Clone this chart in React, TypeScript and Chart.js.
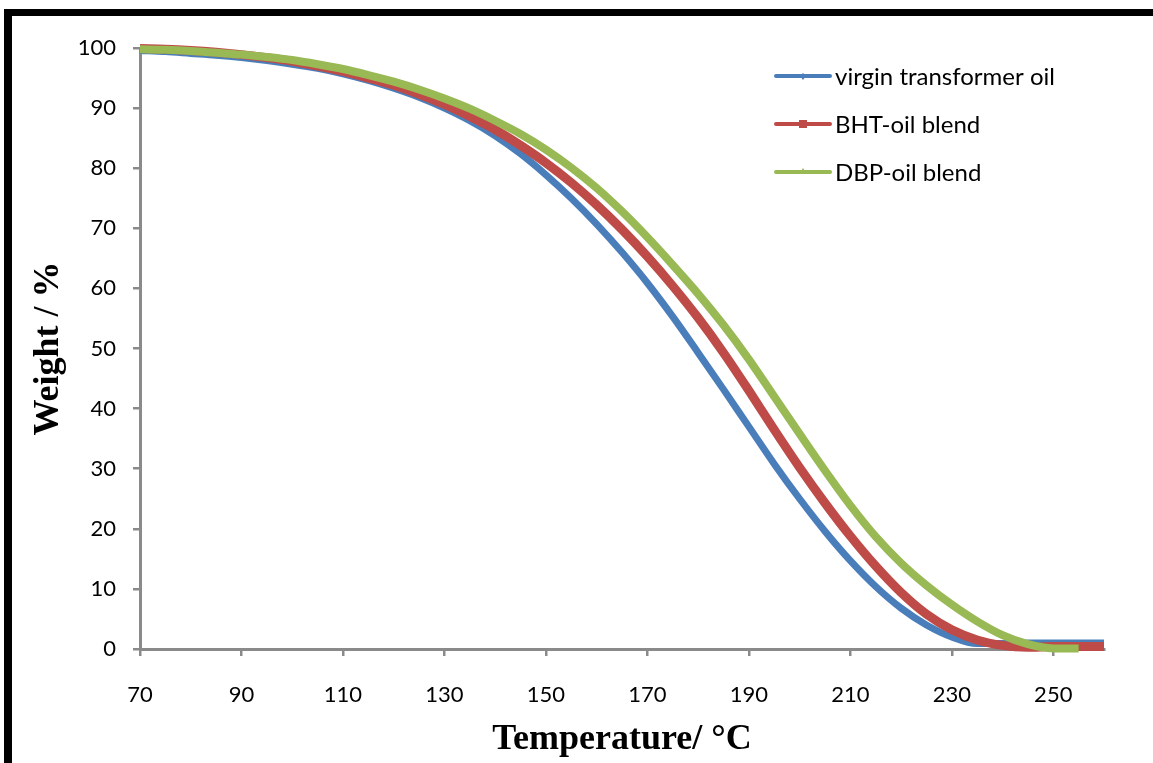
import React, { useEffect, useRef } from "react";
import { Chart, registerables } from "chart.js";

Chart.register(...registerables);

// Temperature (°C)
const temperatures = [
  70, 75, 80, 85, 90, 95, 100, 105, 110, 115, 120, 125, 130, 135, 140, 145, 150, 155, 160, 165,
  170, 175, 180, 185, 190, 195, 200, 205, 210, 215, 220, 225, 230, 235, 240, 245, 250, 255, 260,
];

// Weight (%)
const virginOil = [
  99.6, 99.4, 99.1, 98.8, 98.4, 97.9, 97.3, 96.6, 95.7, 94.6, 93.3, 91.8, 90.0, 87.9, 85.4, 82.4, 78.9, 75.0, 70.7, 66.0,
  60.9, 55.3, 49.3, 43.2, 37.0, 30.8, 25.0, 19.6, 14.7, 10.4, 6.8, 4.0, 2.0, 0.9, 0.9, 1.0, 1.0, 1.0, 1.0,
];
const bhtBlend = [
  99.9, 99.8, 99.6, 99.3, 98.9, 98.4, 97.8, 97.0, 96.1, 95.0, 93.8, 92.3, 90.6, 88.6, 86.4, 83.8, 80.9, 77.6, 73.9, 69.8,
  65.3, 60.4, 55.1, 49.3, 43.0, 36.5, 30.2, 24.3, 18.8, 13.8, 9.4, 5.8, 3.2, 1.5, 0.6, 0.3, 0.4, 0.4, 0.4,
];
const dbpBlend = [
  99.8, 99.7, 99.5, 99.2, 98.9, 98.5, 98.0, 97.3, 96.5, 95.5, 94.4, 93.1, 91.6, 89.9, 87.9, 85.7, 83.1, 80.1, 76.7, 72.8,
  68.5, 63.9, 59.1, 53.9, 48.2, 42.0, 35.8, 29.7, 23.9, 18.7, 14.3, 10.6, 7.4, 4.6, 2.3, 0.8, 0.1, 0.1, null,
];

const seriesLabels = ["virgin transformer oil", "BHT-oil blend", "DBP-oil blend"];
const seriesColors = ["#4A7EBB", "#BE4B48", "#98B954"];
const seriesMarkers = ["rectRot", "rect", "triangle"];

const xTicks = [70, 90, 110, 130, 150, 170, 190, 210, 230, 250];
const yMin = 0;
const yMax = 100;
const yStep = 10;
const xMin = 70;
const xMax = 260;

const toPoints = (values: (number | null)[]) =>
  temperatures
    .map((t, i) => ({ x: t, y: values[i] }))
    .filter((p) => p.y !== null && p.y !== undefined);

const insetLegend = {
  id: "insetLegend",
  afterDatasetsDraw(chart: any) {
    const { ctx } = chart;
    const ds = chart.data.datasets;
    ctx.save();
    ds.forEach((d: any, i: number) => {
      const y = 76 + i * 48;
      const x0 = 776;
      const x1 = 830;
      ctx.strokeStyle = d.borderColor;
      ctx.lineWidth = 4;
      ctx.lineCap = "round";
      ctx.beginPath();
      ctx.moveTo(x0, y);
      ctx.lineTo(x1, y);
      ctx.stroke();
      const cx = (x0 + x1) / 2;
      ctx.fillStyle = d.borderColor;
      ctx.beginPath();
      if (d.legendMarker === "rect") {
        ctx.rect(cx - 4, y - 4, 8, 8);
      } else if (d.legendMarker === "rectRot") {
        ctx.moveTo(cx, y - 3);
        ctx.lineTo(cx + 3, y);
        ctx.lineTo(cx, y + 4);
        ctx.lineTo(cx - 3, y);
        ctx.closePath();
      } else {
        ctx.moveTo(cx, y - 4);
        ctx.lineTo(cx + 3, y + 1);
        ctx.lineTo(cx - 3, y + 1);
        ctx.closePath();
      }
      ctx.fill();
      ctx.fillStyle = "#000";
      ctx.font = "24px Lato";
      ctx.textAlign = "left";
      ctx.textBaseline = "middle";
      ctx.fillText(d.label, 835, y + 1);
    });
    ctx.restore();
  },
};

export default function App() {
  const canvasRef = useRef<HTMLCanvasElement | null>(null);

  useEffect(() => {
    if (!canvasRef.current) return;
    const widths = [7, 9, 8];
    const orders = [3, 2, 1];
    const datasets = [virginOil, bhtBlend, dbpBlend].map((vals, i) => ({
      label: seriesLabels[i],
      data: toPoints(vals),
      borderColor: seriesColors[i],
      backgroundColor: seriesColors[i],
      borderWidth: widths[i],
      pointRadius: 0,
      pointHoverRadius: 0,
      cubicInterpolationMode: "monotone" as const,
      fill: false,
      order: orders[i],
      clip: false as any,
      legendMarker: seriesMarkers[i],
    }));

    const chart = new Chart(canvasRef.current, {
      type: "line",
      data: { datasets: datasets as any },
      plugins: [insetLegend],
      options: {
        animation: false,
        responsive: false,
        maintainAspectRatio: false,
        layout: { padding: { top: 48, right: 49, left: 0, bottom: 0 } },
        plugins: {
          legend: { display: false },
          tooltip: { enabled: false },
        },
        scales: {
          x: {
            type: "linear",
            min: xMin,
            max: xMax,
            afterBuildTicks: (scale: any) => {
              scale.ticks = xTicks.map((v) => ({ value: v }));
            },
            afterFit: (scale: any) => {
              scale.height = 114;
            },
            grid: {
              display: true,
              drawOnChartArea: false,
              drawTicks: true,
              tickLength: 7,
              color: "#8a8a8a",
              lineWidth: 2.5,
            },
            border: { display: true, color: "#8a8a8a", width: 3 },
            ticks: {
              color: "#000",
              font: { family: "Lato", size: 22 },
              padding: 26,
              maxRotation: 0,
              autoSkip: false,
            },
            title: {
              display: true,
              text: "Temperature/ °C",
              color: "#000",
              font: { family: "Liberation Serif", size: 36, weight: "bold", lineHeight: 1.2 },
              padding: { top: 0, bottom: 2 },
            },
          },
          y: {
            type: "linear",
            min: yMin,
            max: yMax,
            ticks: {
              stepSize: yStep,
              color: "#000",
              font: { family: "Lato", size: 22 },
              padding: 17,
            },
            afterFit: (scale: any) => {
              scale.width = 140;
            },
            grid: {
              display: true,
              drawOnChartArea: false,
              drawTicks: true,
              tickLength: 7,
              color: "#8a8a8a",
              lineWidth: 2.5,
            },
            border: { display: true, color: "#8a8a8a", width: 3 },
            title: {
              display: true,
              text: "Weight / %",
              color: "#000",
              font: { family: "Liberation Serif", size: 36, weight: "bold", lineHeight: 1.2 },
              padding: { top: 27, bottom: 0 },
            },
          },
        },
      },
    });
    return () => chart.destroy();
  }, []);

  return (
    <div
      style={{
        position: "fixed",
        left: 0,
        top: 0,
        width: 1153,
        height: 763,
        background: "#fff",
        overflow: "hidden",
      }}
    >
      <canvas ref={canvasRef} width={1153} height={763} style={{ display: "block" }} />
      <div
        style={{
          position: "absolute",
          left: 4,
          top: 9,
          width: 1160,
          height: 800,
          borderTop: "7px solid #000",
          borderLeft: "8px solid #000",
          pointerEvents: "none",
        }}
      />
    </div>
  );
}
